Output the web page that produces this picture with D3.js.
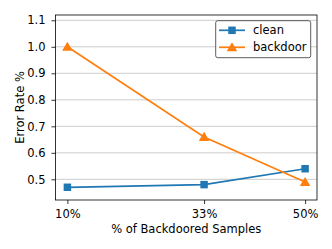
<!DOCTYPE html>
<html><head><meta charset="utf-8">
<script src="https://cdn.jsdelivr.net/npm/d3@7"></script>
<style>body{margin:0;background:#fff}svg{display:block;font-family:"DejaVu Sans",sans-serif}</style>
</head><body><svg id="c" width="332" height="249"></svg>
<script>
const xValues = [10, 33, 50];
const xTickLabels = ["10%", "33%", "50%"];
const cleanValues = [0.47, 0.48, 0.54];
const backdoorValues = [1.0, 0.66, 0.49];
const yTicks = [0.5, 0.6, 0.7, 0.8, 0.9, 1.0, 1.1];
const seriesNames = ["clean", "backdoor"];
const seriesColors = ["#1f77b4", "#ff7f0e"];

const FS = 11.5;
const svg = d3.select("#c");
const L = 55.5, R = 317, T = 15, B = 200;
const x = d3.scaleLinear().domain([8, 52]).range([L, R]);
const y = d3.scaleLinear().domain([0.422, 1.12]).range([B, T]);

// grid
svg.append("g").selectAll("line").data(yTicks).join("line")
  .attr("x1", L).attr("x2", R).attr("y1", d => y(d)).attr("y2", d => y(d))
  .attr("stroke", "#cccccc").attr("stroke-width", 1);

// axes
const yAxis = d3.axisLeft(y).tickValues(yTicks).tickFormat(d3.format(".1f")).tickSize(4).tickPadding(6);
const gy = svg.append("g").attr("transform", `translate(${L},0)`).call(yAxis);
const xAxis = d3.axisBottom(x).tickValues(xValues).tickFormat((d, i) => xTickLabels[i]).tickSize(4).tickPadding(5.5);
const gx = svg.append("g").attr("transform", `translate(0,${B})`).call(xAxis);
[gx, gy].forEach(g => {
  g.select(".domain").remove();
  g.selectAll("text").attr("font-size", FS).attr("fill", "#000").attr("font-family", "DejaVu Sans");
  g.selectAll("line").attr("stroke", "#000").attr("stroke-width", 0.8);
});

// frame
svg.append("rect").attr("x", L).attr("y", T).attr("width", R - L).attr("height", B - T)
  .attr("fill", "none").attr("stroke", "#000").attr("stroke-width", 0.8);

const data = [cleanValues, backdoorValues];
const line = d3.line().x((d, i) => x(xValues[i])).y(d => y(d));
const sym = [d3.symbolSquare, d3.symbolTriangle];
const symSize = [56, 48];
data.forEach((vals, k) => {
  svg.append("path").attr("d", line(vals)).attr("fill", "none")
    .attr("stroke", seriesColors[k]).attr("stroke-width", 1.7);
  svg.append("g").selectAll("path").data(vals).join("path")
    .attr("transform", (d, i) => `translate(${x(xValues[i])},${y(d) + (k === 1 ? 1 : 0)})`)
    .attr("d", d3.symbol().type(sym[k]).size(symSize[k])())
    .attr("fill", seriesColors[k]);
});

// legend
const lg = svg.append("g");
lg.append("rect").attr("x", 215.7).attr("y", 20.7).attr("width", 95).attr("height", 37).attr("rx", 2)
  .attr("fill", "#fff").attr("fill-opacity", 0.8).attr("stroke", "#333").attr("stroke-width", 0.8);
seriesNames.forEach((n, k) => {
  const yy = 30.3 + k * 17;
  lg.append("line").attr("x1", 219).attr("x2", 245).attr("y1", yy).attr("y2", yy)
    .attr("stroke", seriesColors[k]).attr("stroke-width", 1.7);
  lg.append("path").attr("transform", `translate(232,${yy + (k === 1 ? 1 : 0)})`)
    .attr("d", d3.symbol().type(sym[k]).size(symSize[k])()).attr("fill", seriesColors[k]);
  lg.append("text").attr("x", 253).attr("y", yy).attr("dy", "0.35em").attr("font-size", FS).text(n);
});

// axis labels
svg.append("text").attr("x", (L + R) / 2).attr("y", 232.5).attr("text-anchor", "middle")
  .attr("font-size", FS).text("% of Backdoored Samples");
svg.append("text").attr("transform", `translate(23.5,${(T + B) / 2}) rotate(-90)`).attr("text-anchor", "middle")
  .attr("font-size", FS).text("Error Rate %");
</script></body></html>
